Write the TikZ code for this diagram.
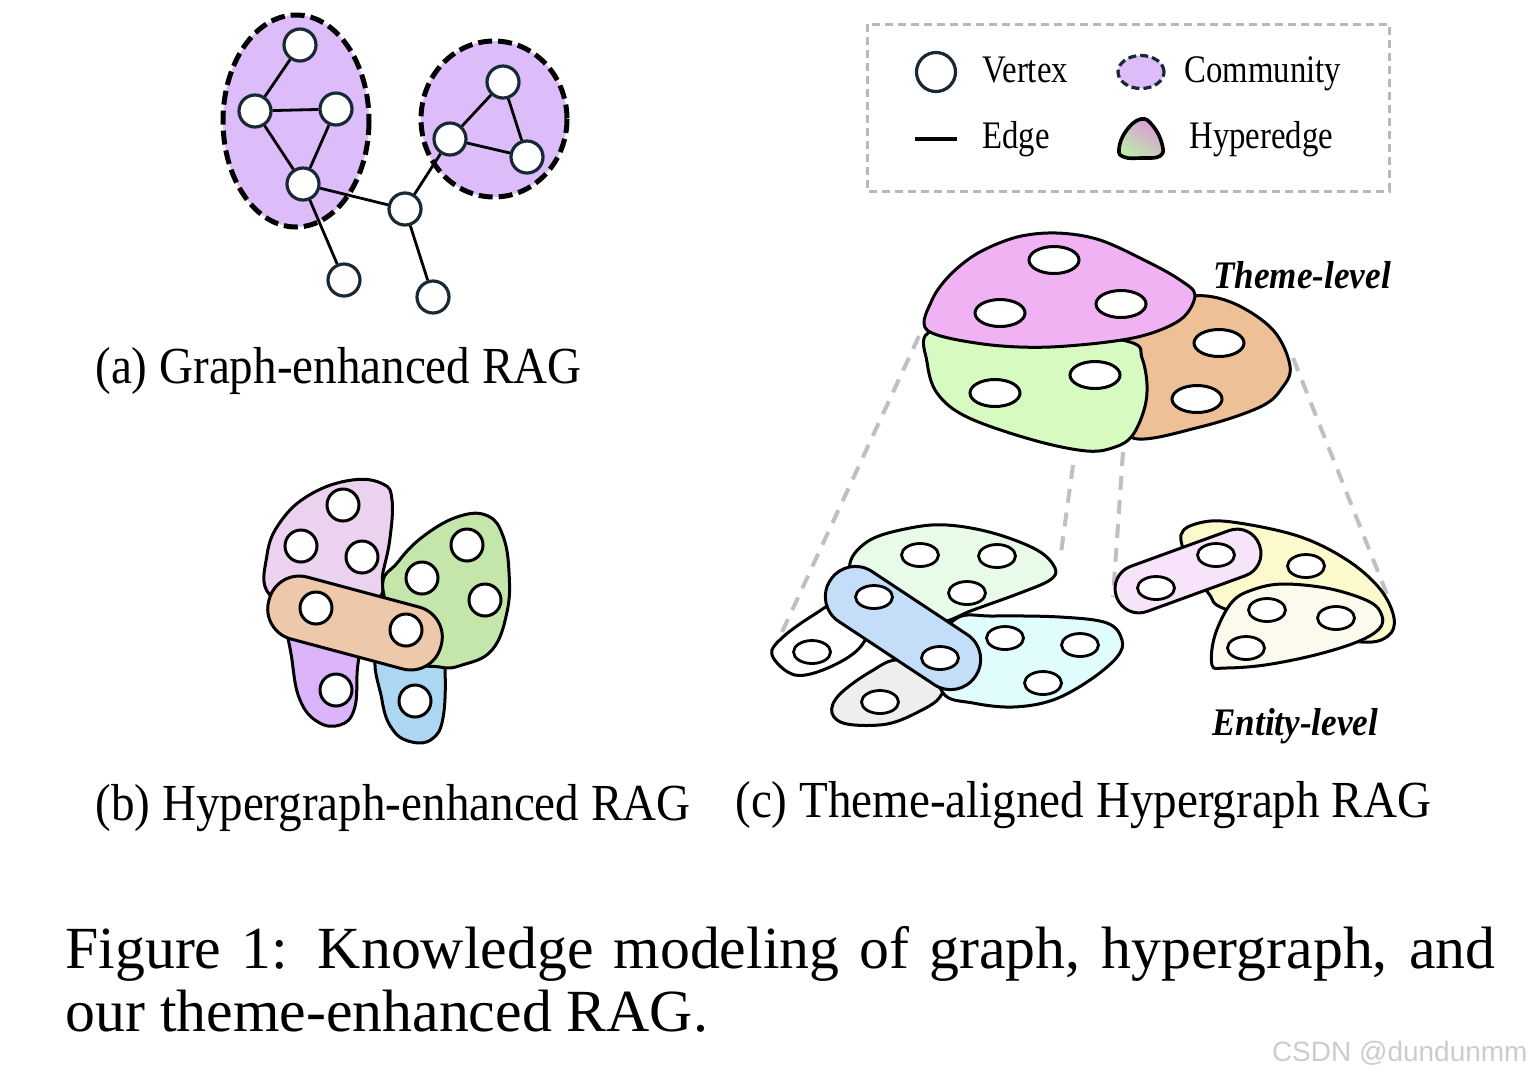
\documentclass[tikz,border=0pt]{standalone}
\usepackage{fontspec}
\setmainfont{Liberation Serif}
\newfontfamily\capfont{Liberation Serif}[FakeStretch=0.905]
\newfontfamily\legfont{Liberation Serif}[FakeStretch=0.84]
\newfontfamily\lvlfont{Liberation Serif}[FakeStretch=0.9]
\newfontfamily\wmfont{Liberation Sans}
\usetikzlibrary{shapes.geometric}
\definecolor{navyc}{RGB}{24,40,52}
\definecolor{lav}{RGB}{221,188,250}
\definecolor{bpink}{RGB}{235,210,238}
\definecolor{bpurple}{RGB}{220,180,250}
\definecolor{bgreen}{RGB}{196,230,170}
\definecolor{bblue}{RGB}{172,215,242}
\definecolor{borange}{RGB}{238,200,170}
\definecolor{tpink}{RGB}{240,178,242}
\definecolor{tgreen}{RGB}{214,250,192}
\definecolor{torange}{RGB}{238,192,152}
\definecolor{emint}{RGB}{232,250,232}
\definecolor{eblue}{RGB}{196,222,250}
\definecolor{ecyan}{RGB}{224,252,252}
\definecolor{egrey}{RGB}{238,238,238}
\definecolor{eyellow}{RGB}{252,250,205}
\definecolor{epink}{RGB}{248,228,250}
\definecolor{ecream}{RGB}{252,250,236}
\definecolor{guidegray}{RGB}{192,192,192}
\definecolor{legpink}{RGB}{222,150,218}
\definecolor{leggreen}{RGB}{186,236,168}
\begin{document}
\begin{tikzpicture}[x=0.5pt,y=-0.5pt,
  vtx/.style={circle, draw=navyc, line width=1.6pt, fill=white, minimum size=16pt, inner sep=0pt},
  bvtx/.style={circle, draw=black, line width=1.5pt, fill=white, minimum size=16pt, inner sep=0pt},
  tvtx/.style={ellipse, draw=black, line width=1.5pt, fill=white, minimum width=25pt, minimum height=13.5pt, inner sep=0pt},
  evtx/.style={ellipse, draw=black, line width=1.4pt, fill=white, minimum width=18.5pt, minimum height=11.5pt, inner sep=0pt},
  gedge/.style={line width=1.4pt, draw=black},
  comm/.style={fill=lav, draw=black, line width=2.5pt, dash pattern=on 7pt off 3pt},
  hedge/.style={draw=black, line width=1.5pt},
  guide/.style={draw=guidegray, line width=2pt, dash pattern=on 7pt off 5pt},
  subcap/.style={anchor=base west, inner sep=0pt, font=\capfont\fontsize{26}{30}\selectfont},
  legtext/.style={anchor=base west, inner sep=0pt, font=\legfont\fontsize{19.5}{22}\selectfont},
  lvl/.style={anchor=base west, inner sep=0pt, font=\lvlfont\bfseries\itshape\fontsize{19.5}{22}\selectfont}
]
\fill[white] (0,0) rectangle (1534,1078);
\useasboundingbox (0,0) rectangle (1534,1078);

% ================= (a) graph =================
\draw[comm] (296,121) ellipse [x radius=73, y radius=106];
\draw[comm] (494,119) ellipse [x radius=73, y radius=78];
\node[vtx] (a1) at (300,45) {};
\node[vtx] (a2) at (255,111) {};
\node[vtx] (a3) at (336,109) {};
\node[vtx] (a4) at (303,184) {};
\node[vtx] (a5) at (405,209) {};
\node[vtx] (a6) at (503,82) {};
\node[vtx] (a7) at (450,139) {};
\node[vtx] (a8) at (527,157) {};
\node[vtx] (a9) at (344,280) {};
\node[vtx] (a10) at (433,297) {};
\draw[gedge] (a1) -- (a2);
\draw[gedge] (a2) -- (a3);
\draw[gedge] (a2) -- (a4);
\draw[gedge] (a3) -- (a4);
\draw[gedge] (a4) -- (a5);
\draw[gedge] (a4) -- (a9);
\draw[gedge] (a5) -- (a7);
\draw[gedge] (a5) -- (a10);
\draw[gedge] (a6) -- (a7);
\draw[gedge] (a6) -- (a8);
\draw[gedge] (a7) -- (a8);
\node[subcap] (capa) at (95,383) {(a) Graph-enhanced RAG};

% ================= (b) hypergraph =================
\draw[hedge, fill=bpink] plot[smooth cycle, tension=0.7] coordinates {(270,595) (267,555) (281,521) (311,494) (352,480) (383,484) (392,500) (390,538) (383,572) (376,600) (320,610)};
\draw[hedge, fill=bpurple] plot[smooth cycle, tension=0.7] coordinates {(288,610) (292,660) (300,700) (318,722) (340,725) (354,710) (357,675) (356,630) (320,600)};
\draw[hedge, fill=bblue] plot[smooth cycle, tension=0.7] coordinates {(380,650) (382,700) (393,730) (412,742) (432,739) (443,718) (445,670) (440,645)};
\draw[hedge, fill=bgreen] plot[smooth cycle, tension=0.7] coordinates {(383,590) (398,562) (425,535) (460,516) (488,516) (503,536) (509,572) (507,612) (492,650) (462,665) (440,667) (410,655)};
\draw[hedge, fill=borange, rotate around={-15:(355,623)}, rounded corners=15.5pt] (266,591) rectangle (444,655);
\node[bvtx] (b1) at (343,505) {};
\node[bvtx] (b2) at (301,546) {};
\node[bvtx] (b3) at (362,557) {};
\node[bvtx] (b4) at (316,608) {};
\node[bvtx] (b5) at (406,630) {};
\node[bvtx] (b6) at (467,545) {};
\node[bvtx] (b7) at (422,578) {};
\node[bvtx] (b8) at (485,600) {};
\node[bvtx] (b9) at (336,690) {};
\node[bvtx] (b10) at (415,701) {};
\node[subcap] (capb) at (95,820) {(b) Hypergraph-enhanced RAG};

% ================= legend =================
\draw[draw=gray!55, line width=1.5pt, dash pattern=on 4pt off 2.5pt] (867,24) rectangle (1389,191);
\node[vtx, minimum size=19.5pt] (lv) at (936,72) {};
\node[ellipse, comm, line width=1.6pt, dash pattern=on 4pt off 2pt, draw=navyc, minimum width=23pt, minimum height=16.5pt, inner sep=0pt] (lc) at (1141,72) {};
\coordinate (le1) at (915,139);
\coordinate (le2) at (957,139);
\draw[line width=1.6pt] (le1) -- (le2);
\draw[hedge, line width=1.8pt, top color=legpink, bottom color=leggreen, shading angle=-35] plot[smooth cycle, tension=0.75] coordinates {(1119,149) (1126,131) (1141,119) (1153,126) (1162,144) (1160,156) (1141,158) (1124,157)};
\node[legtext] (tv) at (982,82) {Vertex};
\node[legtext] (tc) at (1184,82) {Community};
\node[legtext] (te) at (982,148) {Edge};
\node[legtext] (th) at (1189,148) {Hyperedge};

% ================= (c) theme-aligned =================
\coordinate (g1a) at (919,336);
\coordinate (g1b) at (776,645);
\coordinate (g2a) at (1073,465);
\coordinate (g2b) at (1060,560);
\coordinate (g3a) at (1123,452);
\coordinate (g3b) at (1113,597);
\coordinate (g4a) at (1293,358);
\coordinate (g4b) at (1390,602);
\draw[guide] (g1a) -- (g1b);
\draw[guide] (g2a) -- (g2b);
\draw[guide] (g3a) -- (g3b);
\draw[guide] (g4a) -- (g4b);

% theme-level
\draw[hedge, fill=torange] plot[smooth cycle, tension=0.6] coordinates {(1120,345) (1160,312) (1193,296) (1233,303) (1273,330) (1290,366) (1282,388) (1260,407) (1200,427) (1133,438) (1125,400)};
\draw[hedge, fill=tgreen] plot[smooth cycle, tension=0.6] coordinates {(928,333) (927,362) (937,393) (967,417) (1033,440) (1087,451) (1115,447) (1132,436) (1144,410) (1147,385) (1142,358) (1130,342) (1050,330) (980,328)};
\draw[hedge, fill=tpink] plot[smooth cycle, tension=0.55] coordinates {(927,330) (932,300) (950,275) (978,253) (1017,237) (1057,233) (1100,240) (1150,263) (1180,280) (1195,295) (1180,320) (1133,338) (1050,347) (983,344)};
\node[tvtx] (t1) at (1054,260) {};
\node[tvtx] (t2) at (1000,313) {};
\node[tvtx] (t3) at (1121,304) {};
\node[tvtx] (t4) at (1219,343) {};
\node[tvtx] (t5) at (1197,399) {};
\node[tvtx] (t6) at (1095,375) {};
\node[tvtx] (t7) at (995,393) {};
\node[lvl] (ttheme) at (1213,288) {Theme-level};

% entity-level left cluster
\draw[hedge, fill=emint] plot[smooth cycle, tension=0.6] coordinates {(850,563) (870,540) (910,528) (947,525) (993,533) (1037,550) (1055,568) (1050,580) (1020,593) (973,610) (940,622) (900,615) (860,590)};
\draw[hedge, fill=white] plot[smooth cycle, tension=0.6] coordinates {(772,655) (783,637) (815,614) (845,598) (872,610) (862,645) (830,667) (795,675)};
\draw[hedge, fill=egrey] plot[smooth cycle, tension=0.6] coordinates {(832,713) (839,695) (870,672) (900,660) (940,680) (940,697) (920,711) (887,724) (847,724)};
\draw[hedge, fill=ecyan] plot[smooth cycle, tension=0.6] coordinates {(943,693) (935,650) (957,618) (993,616) (1060,617) (1107,623) (1122,640) (1117,657) (1090,680) (1053,700) (1013,707) (973,703)};
\draw[hedge, fill=eblue, rotate around={-33.5:(903,628)}, rounded corners=14.8pt] (816,598) rectangle (990,658);
\node[evtx] (e1) at (920,555) {};
\node[evtx] (e2) at (997,556) {};
\node[evtx] (e3) at (967,593) {};
\node[evtx] (e4) at (874,597) {};
\node[evtx] (e5) at (940,658) {};
\node[evtx] (e6) at (812,652) {};
\node[evtx] (e7) at (880,702) {};
\node[evtx] (e8) at (1005,638) {};
\node[evtx] (e9) at (1080,645) {};
\node[evtx] (e10) at (1043,683) {};

% entity-level right cluster
\draw[hedge, fill=eyellow] plot[smooth cycle, tension=0.6] coordinates {(1181,535) (1199,523) (1232,522) (1298,536) (1347,560) (1380,589) (1394,618) (1388,636) (1362,642) (1300,630) (1225,609) (1209,594) (1190,565)};
\draw[hedge, fill=epink, rotate around={20:(1188,571)}, rounded corners=11.8pt] (1112,547) rectangle (1264,595);
\draw[hedge, fill=ecream] plot[smooth cycle, tension=0.6] coordinates {(1212,665) (1215,635) (1232,602) (1255,589) (1285,584) (1331,589) (1370,602) (1382,616) (1379,629) (1357,642) (1315,655) (1265,665) (1225,668)};
\node[evtx] (f1) at (1306,566) {};
\node[evtx] (f2) at (1156,588) {};
\node[evtx] (f3) at (1216,555) {};
\node[evtx] (f4) at (1267,610) {};
\node[evtx] (f5) at (1336,618) {};
\node[evtx] (f6) at (1246,648) {};
\node[lvl] (tentity) at (1212,735) {Entity-level};

\node[subcap] (capc) at (735,817) {(c) Theme-aligned Hypergraph RAG};

% ================= caption =================
\node[anchor=base west, inner sep=0pt, font=\fontsize{29.9}{32}\selectfont] (fig1) at (65,968) {\makebox[715pt][s]{Figure 1: Knowledge modeling of graph, hypergraph, and}};
\node[anchor=base west, inner sep=0pt, font=\fontsize{29.9}{32}\selectfont] (fig2) at (65,1031) {our theme-enhanced RAG.};
\node[anchor=base east, inner sep=0pt, text=gray!40, font=\wmfont\fontsize{14}{16}\selectfont] (wm) at (1528,1061) {CSDN @dundunmm};
\end{tikzpicture}
\end{document}
